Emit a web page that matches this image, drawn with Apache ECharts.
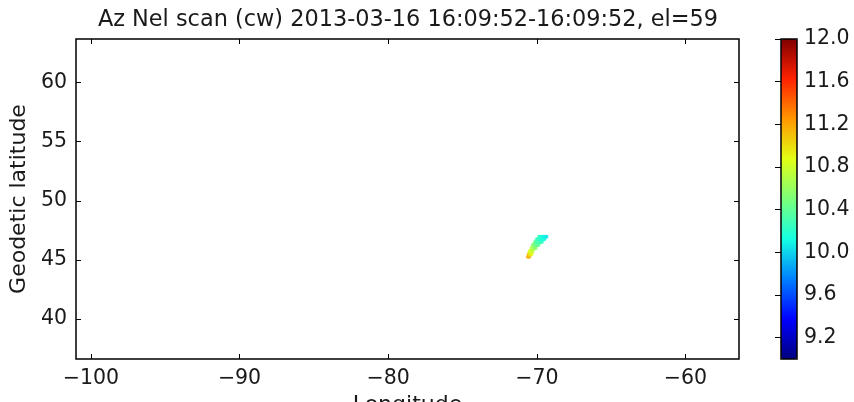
<!DOCTYPE html>
<html>
<head>
<meta charset="utf-8">
<script src="https://cdn.jsdelivr.net/npm/echarts@6/dist/echarts.min.js"></script>
<style>
html,body{margin:0;padding:0;background:#fff;}
#chart{width:854px;height:402px;}
</style>
</head>
<body>
<div id="chart"></div>
<script>
// ---- data ----
var titleText = 'Az Nel scan (cw) 2013-03-16 16:09:52-16:09:52, el=59';
var xTicks = [-100, -90, -80, -70, -60];
var yTicks = [40, 45, 50, 55, 60];
var cbTicks = [9.2, 9.6, 10.0, 10.4, 10.8, 11.2, 11.6, 12.0];
var lon = [-70.60, -70.50,
           -70.55, -70.45, -70.35,
           -70.47, -70.37, -70.27,
           -70.35, -70.25, -70.15, -70.07,
           -70.27, -70.17, -70.07, -69.97, -69.88,
           -70.13, -70.03, -69.93, -69.83, -69.73, -69.66,
           -70.00, -69.90, -69.80, -69.70, -69.60, -69.50,
           -69.85, -69.75, -69.65, -69.55, -69.45, -69.35];
var lat = [45.25, 45.25,
           45.50, 45.50, 45.50,
           45.75, 45.75, 45.75,
           46.00, 46.00, 46.00, 46.00,
           46.25, 46.25, 46.25, 46.25, 46.25,
           46.50, 46.50, 46.50, 46.50, 46.50, 46.50,
           46.75, 46.75, 46.75, 46.75, 46.75, 46.75,
           46.95, 46.95, 46.95, 46.95, 46.95, 46.95];
var val = [11.20, 11.10,
           11.05, 10.95, 10.90,
           10.85, 10.80, 10.75,
           10.70, 10.65, 10.60, 10.55,
           10.55, 10.50, 10.45, 10.40, 10.40,
           10.40, 10.35, 10.30, 10.30, 10.25, 10.25,
           10.30, 10.25, 10.20, 10.20, 10.15, 10.15,
           10.25, 10.20, 10.15, 10.10, 10.10, 10.05];
var jet = ['#000080', '#0000ff', '#0080ff', '#14ffe2', '#7bff7b', '#e2ff14', '#ff9700', '#ff2100', '#800000'];

var pts = lon.map(function (v, i) { return [v, lat[i], val[i]]; });
var fmt = function (v) { return String(v).replace('-', '\u2212'); };
var FONT = 'DejaVu Sans';

var chart = echarts.init(document.getElementById('chart'), null, {renderer: 'canvas'});
var mainGrid = {left: 76, top: 39, width: 663, height: 320, show: true, borderColor: '#000', borderWidth: 1.5,
                backgroundColor: 'transparent', containLabel: false, outerBoundsMode: 'none'};
var cbGrid = {left: 781, top: 39, width: 16, height: 320, show: true, borderColor: '#000', borderWidth: 1.5,
              backgroundColor: 'transparent', z: 10, containLabel: false, outerBoundsMode: 'none'};
var tickCommon = {inside: true, length: 5, lineStyle: {color: '#000', width: 1}};
chart.setOption({
  animation: false,
  textStyle: {fontFamily: FONT},
  title: {text: titleText, left: 403, top: 4, textAlign: 'center',
          textStyle: {fontFamily: FONT, fontSize: 22.4, fontWeight: 'normal', color: '#1a1a1a'}},
  grid: [mainGrid, cbGrid],
  xAxis: [
    {gridIndex: 0, type: 'value', min: -101.0, max: -56.4, position: 'bottom',
     name: 'Longitude', nameLocation: 'middle', nameGap: 33,
     nameTextStyle: {fontFamily: FONT, fontSize: 22, color: '#1a1a1a'},
     axisLine: {show: false}, splitLine: {show: false},
     axisTick: Object.assign({customValues: xTicks}, tickCommon),
     axisLabel: {customValues: xTicks, formatter: fmt, margin: 9, fontFamily: FONT, fontSize: 20.5, color: '#1a1a1a'}},
    {gridIndex: 0, type: 'value', min: -101.0, max: -56.4, position: 'top',
     axisLine: {show: false}, splitLine: {show: false},
     axisTick: Object.assign({customValues: xTicks}, tickCommon),
     axisLabel: {show: false}},
    {gridIndex: 1, type: 'value', min: 0, max: 1, show: false}
  ],
  yAxis: [
    {gridIndex: 0, type: 'value', min: 36.6, max: 63.7, position: 'left',
     name: 'Geodetic latitude', nameLocation: 'middle', nameGap: 41, nameRotate: 90,
     nameTextStyle: {fontFamily: FONT, fontSize: 22, color: '#1a1a1a'},
     axisLine: {show: false}, splitLine: {show: false},
     axisTick: Object.assign({customValues: yTicks}, tickCommon),
     axisLabel: {customValues: yTicks, margin: 9, fontFamily: FONT, fontSize: 20.5, color: '#1a1a1a'}},
    {gridIndex: 0, type: 'value', min: 36.6, max: 63.7, position: 'right',
     axisLine: {show: false}, splitLine: {show: false},
     axisTick: Object.assign({customValues: yTicks}, tickCommon),
     axisLabel: {show: false}},
    {gridIndex: 1, type: 'value', min: 9.0, max: 12.0, position: 'right',
     axisLine: {show: false}, splitLine: {show: false},
     axisTick: Object.assign({customValues: cbTicks}, tickCommon, {length: 6}),
     axisLabel: {customValues: cbTicks, formatter: function (v) { return v.toFixed(1); },
                 margin: 7, fontFamily: FONT, fontSize: 20.5, color: '#1a1a1a'}}
  ],
  visualMap: {
    type: 'continuous', min: 9.0, max: 12.0, dimension: 2, seriesIndex: 0,
    inRange: {color: jet}, calculable: false, realtime: false,
    orient: 'vertical', left: 781, top: 39, itemWidth: 16, itemHeight: 320,
    padding: 0, text: null, showLabel: false, hoverLink: false, z: 1
  },
  series: [{
    type: 'scatter', xAxisIndex: 0, yAxisIndex: 0, data: pts,
    symbol: 'circle', symbolSize: 4, itemStyle: {opacity: 0.9}
  }]
});
</script>
</body>
</html>
